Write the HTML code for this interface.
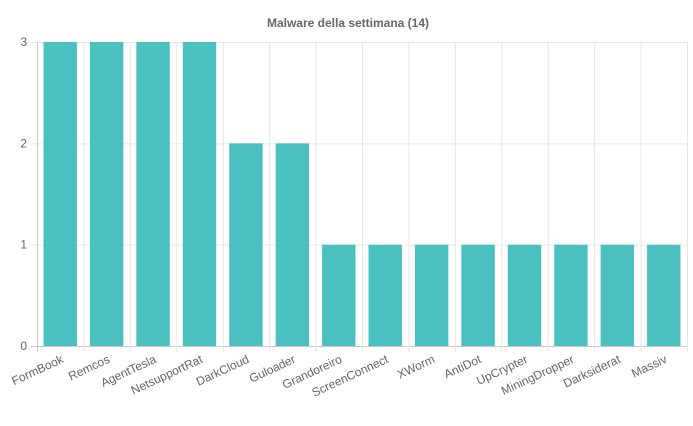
<!DOCTYPE html>
<html><head><meta charset="utf-8"><style>
body{margin:0;background:#fff;width:693px;height:421px;overflow:hidden}
svg{font-family:"Liberation Sans",Arial,sans-serif}
</style></head><body>
<svg id="chart" width="693" height="421">
<text x="348" y="27" text-anchor="middle" font-size="12" font-weight="bold" fill="#666">Malware della settimana (14)</text>
<g id="grid"></g><g id="bars"></g><g id="labels"></g>
</svg>
<script>
const categories=["FormBook","Remcos","AgentTesla","NetsupportRat","DarkCloud","Guloader","Grandoreiro","ScreenConnect","XWorm","AntiDot","UpCrypter","MiningDropper","Darksiderat","Massiv"];
const values=[3,3,3,3,2,2,1,1,1,1,1,1,1,1];
const yTicks=[0,1,2,3];
const NS="http://www.w3.org/2000/svg";
const L=37,R=687,T=42,B=346,yMax=3;
const cw=(R-L)/categories.length;
const x=i=>L+i*cw;
const y=v=>B-(v/yMax)*(B-T);
function mk(tag,attrs,parent){const e=document.createElementNS(NS,tag);for(const k in attrs)e.setAttribute(k,attrs[k]);parent.appendChild(e);return e;}
const grid=document.getElementById('grid'),bars=document.getElementById('bars'),labels=document.getElementById('labels');
yTicks.forEach(t=>{
 const ln=mk('line',{x1:L-6,x2:R,y1:y(t)+0.5,y2:y(t)+0.5,stroke:t===0?'#c8c8c8':'#e6e6e6'},grid);
 
 
 const tx=mk('text',{x:L-10,y:y(t)+4,'text-anchor':'end','font-size':12,fill:'#666'},labels);
 tx.textContent=t;
 
 
});
for(let i=0;i<=categories.length;i++){
 const ln=mk('line',{x1:x(i)+0.5,x2:x(i)+0.5,y1:T,y2:B+6,stroke:i===0?'#c8c8c8':'#e6e6e6'},grid);
 
 
}
categories.forEach((c,i)=>{
 const bw=cw*0.72,bx=x(i)+(cw-bw)/2;
 const r=mk('rect',{x:bx,y:y(values[i]),width:bw,height:B-y(values[i]),fill:'#4bc0c0'},bars);
 
 
 const cx=x(i)+cw/2;
 const tx=mk('text',{x:cx+4,y:B+16,'text-anchor':'end','font-size':12,fill:'#666',transform:`rotate(-25 ${cx+4} ${B+16})`},labels);
 tx.textContent=c;
 
 
});
</script>
</body></html>
